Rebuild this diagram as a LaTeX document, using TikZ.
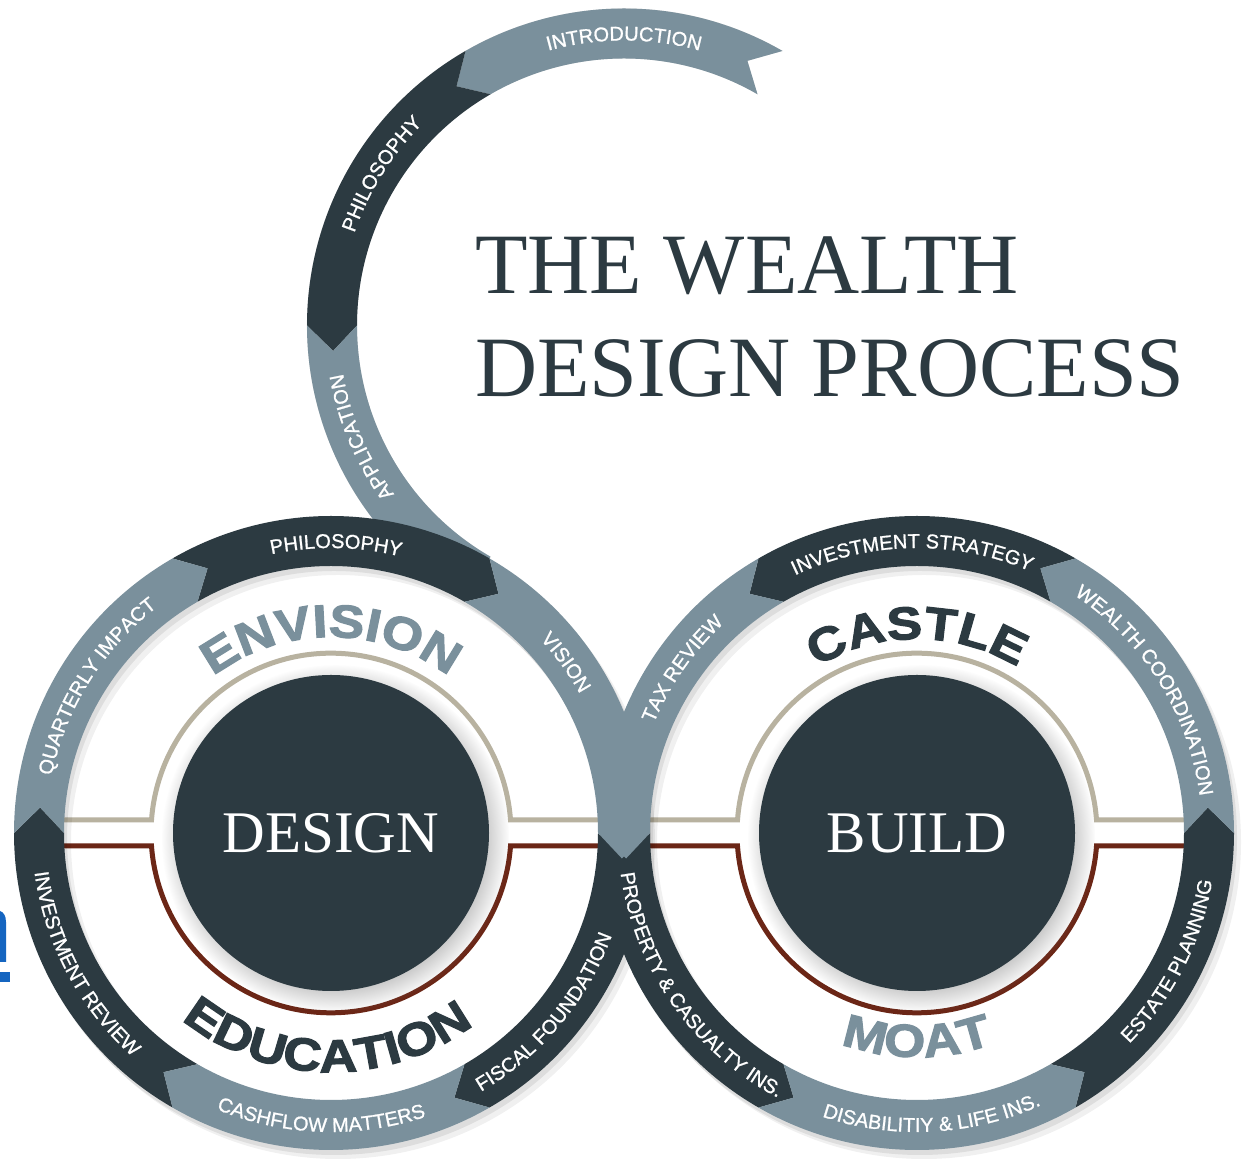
\documentclass[tikz,border=0pt]{standalone}
\usepackage{fontspec}
\setmainfont{Liberation Serif}
\newfontfamily\ringfamily[FakeBold=1]{Liberation Sans}
\newfontfamily\heavyfamily[FakeStretch=1.15,FakeBold=2.5]{Liberation Sans}
\usetikzlibrary{calc,decorations.text,shadows}
\definecolor{slate}{RGB}{44,58,65}
\definecolor{steel}{RGB}{122,144,156}
\definecolor{sand}{RGB}{184,178,160}
\definecolor{rust}{RGB}{107,38,22}
\definecolor{linkblue}{RGB}{21,101,192}

\newcommand{\ringout}{317}
\newcommand{\ringin}{267}
\newcommand{\ringmid}{292}
\newcommand{\ringfont}{\ringfamily\fontsize{20}{24}\selectfont}
\newcommand{\heavyfont}{\heavyfamily\bfseries\fontsize{46}{50}\selectfont}

% arrow piece of a ring: centre, from, to, tip shift, notch shift, fill
\newcommand{\ringpiece}[6]{%
  \fill[#6] ($(#1)+(#2:\ringout)$) arc[start angle=#2, end angle=#3, radius=\ringout]
    -- ($(#1)+({#3+#4}:\ringmid)$) -- ($(#1)+(#3:\ringin)$)
    arc[start angle=#3, end angle=#2, radius=\ringin]
    -- ($(#1)+({#2+#5}:\ringmid)$) -- cycle;}

% white captions on the rings: upper ones read clockwise, lower ones anticlockwise
\newcommand{\uplabel}[3]{%
  \path[decorate, decoration={text along path, text align=center,
      text color=white, text={|\ringfont|#3}}]
    ($(#1)+({#2+45}:285)$) arc[start angle={#2+45}, end angle={#2-45}, radius=285];}
\newcommand{\lowlabel}[3]{%
  \path[decorate, decoration={text along path, text align=center,
      text color=white, text={|\ringfont|#3}}]
    ($(#1)+({#2-45}:299)$) arc[start angle={#2-45}, end angle={#2+45}, radius=299];}

\begin{document}
\begin{tikzpicture}[x=1pt, y=1pt,
  disc/.style={circle, fill=slate, minimum size=316, inner sep=0pt, text=white,
               font=\fontsize{59}{60}\selectfont,
               circular drop shadow={shadow xshift=4pt, shadow yshift=-5pt, opacity=.45}},
  title/.style={text=slate, inner sep=0pt, font=\fontsize{86}{90}\selectfont},
  sandline/.style={draw=sand, line width=5},
  rustline/.style={draw=rust, line width=5},
  ringshade/.style={black, opacity=#1, even odd rule}]

\fill[white] (0,0) rectangle (1245,1166);
\useasboundingbox (0,0) rectangle (1245,1166);

\coordinate (L) at (331,333);
\coordinate (R) at (917,333);
\coordinate (T) at (624,840.5);

% ---------- stray link at the left edge ----------
\fill[linkblue] (0,184) rectangle (10,194);
\fill[linkblue] (0,204) -- (6,204) -- (6,244) .. controls (6,251) and (3,254) .. (0,255) -- cycle;

% ---------- divider lines ----------
\foreach \c in {L,R}{
  \draw[sandline] ($(\c)+(-\ringmid,13)$) -- ($(\c)+(-179.5,13)$)
    arc[start angle=175.8, end angle=4.2, radius=180] -- ($(\c)+(\ringmid,13)$);
  \draw[rustline] ($(\c)+(-\ringmid,-13)$) -- ($(\c)+(-179.5,-13)$)
    arc[start angle=184.2, end angle=355.8, radius=180] -- ($(\c)+(\ringmid,-13)$);
}

% ---------- soft shadows ----------
\foreach \s/\o in {3/.08, 7/.06}{
  \fill[ringshade=\o] ($(L)+(\s,-\s-2)$) circle[radius=\ringout]
                      ($(L)+(\s,-\s-2)$) circle[radius=\ringin];
  \fill[ringshade=\o] ($(R)+(\s,-\s-2)$) circle[radius=\ringout]
                      ($(R)+(\s,-\s-2)$) circle[radius=\ringin];
  \ringpiece{T}{60}{240}{0}{5}{black, opacity=\o, shift={(\s,-\s-2)}}
}

% ---------- the lead-in curve ----------
\ringpiece{T}{60}{120}{5}{5}{steel}
\ringpiece{T}{120}{180}{5}{5}{slate}
\ringpiece{T}{180}{240}{0}{5}{steel}

% ---------- the two rings ----------
\ringpiece{L}{240}{180}{-5}{-5}{slate}
\ringpiece{L}{120}{60}{-5}{-5}{slate}
\ringpiece{L}{0}{-60}{-5}{-5}{slate}
\ringpiece{R}{180}{240}{5}{5}{slate}
\ringpiece{R}{300}{360}{5}{5}{slate}
\ringpiece{R}{60}{120}{5}{5}{slate}

\ringpiece{L}{180}{120}{-5}{-5}{steel}
\ringpiece{L}{60}{0}{-5}{-5}{steel}
\ringpiece{L}{-60}{-120}{-5}{-5}{steel}
\ringpiece{R}{120}{180}{5}{5}{steel}
\ringpiece{R}{240}{300}{5}{5}{steel}
\ringpiece{R}{0}{60}{5}{5}{steel}

% ---------- centres ----------
\node[disc] (design) at (L) {DESIGN};
\node[disc] (build) at (R) {BUILD};

\path[decorate, decoration={text along path, text align=center, text color=steel,
    text={|\heavyfont|ENVISION}}] ($(L)+(150:196)$) arc[start angle=150, end angle=30, radius=196];
\path[decorate, decoration={text along path, text align=center, text color=slate,
    text={|\heavyfont|EDUCATION}}] ($(L)+(209:239)$) arc[start angle=209, end angle=329, radius=239];
\path[decorate, decoration={text along path, text align=center, text color=slate,
    text={|\heavyfont|CASTLE}}] ($(R)+(150:194)$) arc[start angle=150, end angle=30, radius=194];
\path[decorate, decoration={text along path, text align=center, text color=steel,
    text={|\heavyfont|MOAT}}] ($(R)+(210:224)$) arc[start angle=210, end angle=330, radius=224];

% ---------- ring captions ----------
\uplabel{T}{90}{INTRODUCTION}
\uplabel{T}{148}{PHILOSOPHY}
\uplabel{T}{203}{APPLICATION}

\uplabel{L}{148}{QUARTERLY IMPACT}
\uplabel{L}{89}{PHILOSOPHY}
\uplabel{L}{36}{VISION}
\lowlabel{L}{320}{FISCAL FOUNDATION}
\lowlabel{L}{268}{CASHFLOW MATTERS}
\lowlabel{L}{208}{INVESTMENT REVIEW}

\uplabel{R}{145}{TAX REVIEW}
\uplabel{R}{91}{INVESTMENT STRATEGY}
\uplabel{R}{32}{WEALTH COORDINATION}
\lowlabel{R}{333}{ESTATE PLANNING}
\lowlabel{R}{273}{DISABILITIY {\&} LIFE INS.}
\lowlabel{R}{215}{PROPERTY {\&} CASUALTY INS.}

% ---------- heading ----------
\node[title, anchor=base west] (title1) at (475,872) {THE WEALTH};
\node[title, anchor=base west] (title2) at ($(title1.base west)+(0,-103)$) {DESIGN PROCESS};
\end{tikzpicture}
\end{document}
